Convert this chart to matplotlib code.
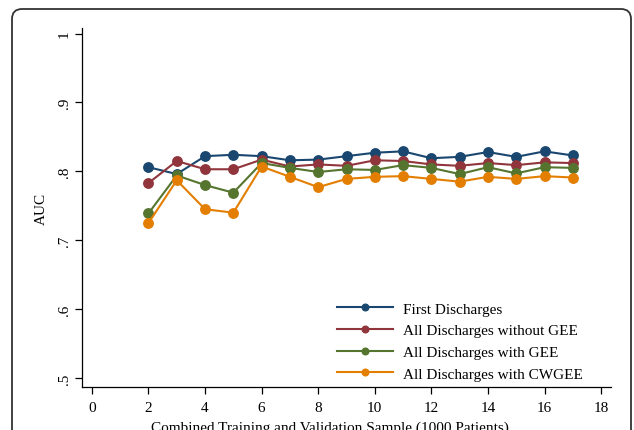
import matplotlib.pyplot as plt
from matplotlib.patches import FancyBboxPatch
from matplotlib.transforms import IdentityTransform

plt.rcParams['font.family'] = ['Liberation Serif', 'DejaVu Serif']

sample = [2, 3, 4, 5, 6, 7, 8, 9, 10, 11, 12, 13, 14, 15, 16, 17]
first = [.806, .796, .822, .824, .822, .816, .817, .822, .827, .829, .819, .821, .828, .821, .829, .823]
no_gee = [.783, .815, .803, .803, .817, .807, .810, .808, .816, .815, .810, .808, .812, .809, .813, .812]
gee = [.739, .794, .780, .769, .812, .805, .799, .803, .802, .809, .805, .796, .806, .797, .806, .805]
cwgee = [.725, .787, .745, .740, .807, .792, .777, .789, .792, .793, .789, .785, .792, .789, .793, .791]

series = [
    ('First Discharges', first, '#1a476f'),
    ('All Discharges without GEE', no_gee, '#90353b'),
    ('All Discharges with GEE', gee, '#55752f'),
    ('All Discharges with CWGEE', cwgee, '#e37e00'),
]

fs = 11
fig = plt.figure(figsize=(6.34, 4.31), dpi=100)
ax = fig.add_axes([82 / 634, 1 - 388 / 431, (611 - 82) / 634, (388 - 29) / 431])

for name, vals, col in series:
    ax.plot(sample, vals, '-o', color=col, lw=1.5, ms=6.8, label=name)

ax.set_xlim(-0.35, 18.35)
ax.set_ylim(0.487, 1.008)
ax.set_xticks(range(0, 19, 2))
ax.set_yticks([.5, .6, .7, .8, .9, 1])
ax.set_yticklabels(['.5', '.6', '.7', '.8', '.9', '1'], rotation=90, va='center')
ax.tick_params(labelsize=fs, length=5, width=0.9, pad=5)
ax.tick_params(axis='y', pad=3)
ax.spines['top'].set_visible(False)
ax.spines['right'].set_visible(False)
for s in ['left', 'bottom']:
    ax.spines[s].set_linewidth(0.9)

ax.set_ylabel('AUC', fontsize=fs)
ax.yaxis.set_label_coords((48 - 82) / 529, 0.5)
ax.set_xlabel('Combined Training and Validation Sample (1000 Patients)', fontsize=fs)
ax.xaxis.set_label_coords((330 - 82) / 529, -(428 - 388) / 359)
ax.xaxis.label.set_va('center')

leg = ax.legend(loc='upper left', bbox_to_anchor=(337 / 634, 1 - 303 / 431),
                bbox_transform=fig.transFigure, frameon=False, borderpad=0,
                borderaxespad=0, fontsize=fs, markerscale=0.7, handlelength=3.66,
                labelspacing=0.52, handletextpad=0.65)

frame = FancyBboxPatch((12, -20), 619, 441, boxstyle='round,pad=0,rounding_size=10',
                       transform=IdentityTransform(), fill=False,
                       edgecolor='#333333', lw=1.3)
fig.add_artist(frame)

fig.savefig('out.png', dpi=100)
